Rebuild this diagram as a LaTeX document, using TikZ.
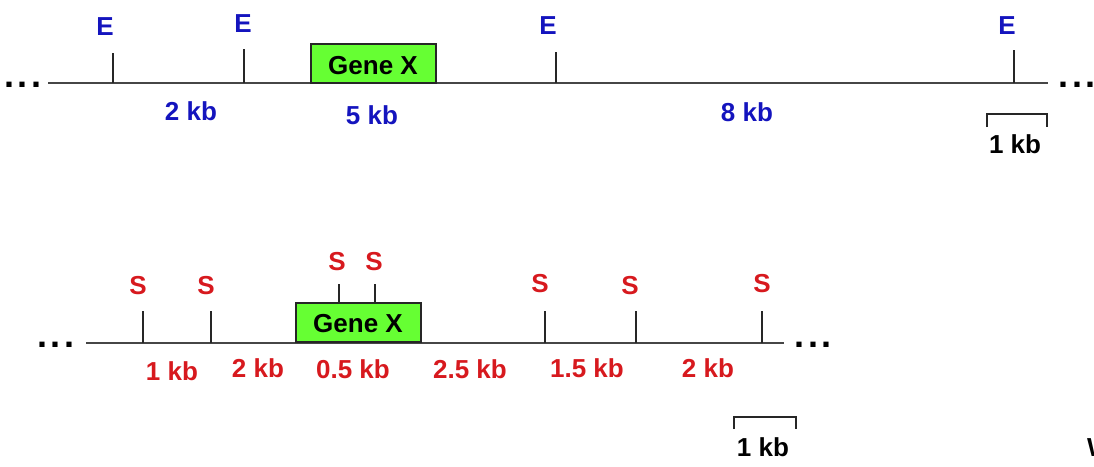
\documentclass[tikz,border=0pt]{standalone}
\usepackage{fontspec}
\setmainfont{Liberation Sans}
\definecolor{eblue}{RGB}{20,20,190}
\definecolor{sred}{RGB}{215,25,30}
\definecolor{genegreen}{RGB}{102,255,51}
\definecolor{linegray}{RGB}{70,70,70}
\begin{document}
\begin{tikzpicture}[x=1pt,y=-1pt,
  lbl/.style={font=\fontsize{26}{30}\selectfont\bfseries, inner sep=0pt, anchor=base},
  elbl/.style={lbl, text=eblue},
  slbl/.style={lbl, text=sred},
  klbl/.style={lbl, text=black},
  dna/.style={draw=linegray, line width=2pt},
  sitetick/.style={draw=black!85, line width=1.3pt},
  genebox/.style={draw=black!85, fill=genegreen, line width=1.3pt},
  scalebar/.style={draw=black!85, line width=1.3pt},
  dotsl/.style={font=\fontsize{36}{40}\selectfont\bfseries, inner sep=0pt, anchor=base, text=black}
]
\useasboundingbox (0,0) rectangle (1094,466);
% ---------------- top map (E sites) ----------------
\coordinate (tl) at (48,83);
\coordinate (tr) at (1048,83);
\draw[dna] (tl) -- (tr);
\node[dotsl] (tdl) at (23,87) {.\kern3.5pt.\kern3.5pt.};
\node[dotsl] (tdr) at (1077,87) {.\kern3.5pt.\kern3.5pt.};
\draw[genebox] (311,83) rectangle (436,44);
\node[klbl] (tgene) at (373,74) {Gene X};
\coordinate (e1) at (113,83);
\coordinate (e2) at (244,83);
\coordinate (e3) at (556,83);
\coordinate (e4) at (1014,83);
\draw[sitetick] (e1) -- ++(0,-30);
\draw[sitetick] (e2) -- ++(0,-34);
\draw[sitetick] (e3) -- ++(0,-31);
\draw[sitetick] (e4) -- ++(0,-33);
\node[elbl] (le1) at (105,35) {E};
\node[elbl] (le2) at (243,32) {E};
\node[elbl] (le3) at (548,34) {E};
\node[elbl] (le4) at (1007,34) {E};
\node[elbl] (d1) at (191,120) {2 kb};
\node[elbl] (d2) at (372,124) {5 kb};
\node[elbl] (d3) at (747,121) {8 kb};
\draw[scalebar] (987,127) -- (987,114) -- (1047,114) -- (1047,127);
\node[klbl] (tsc) at (1015,153) {1 kb};
% ---------------- bottom map (S sites) ----------------
\coordinate (bl) at (86,343);
\coordinate (br) at (784,343);
\draw[dna] (bl) -- (br);
\node[dotsl] (bdl) at (56,347) {.\kern3.5pt.\kern3.5pt.};
\node[dotsl] (bdr) at (813,347) {.\kern3.5pt.\kern3.5pt.};
\draw[genebox] (296,342) rectangle (421,303);
\node[klbl] (bgene) at (358,332) {Gene X};
\coordinate (s1) at (143,343);
\coordinate (s2) at (211,343);
\coordinate (s3) at (339,303);
\coordinate (s4) at (375,303);
\coordinate (s5) at (545,343);
\coordinate (s6) at (636,343);
\coordinate (s7) at (762,343);
\draw[sitetick] (s1) -- ++(0,-32);
\draw[sitetick] (s2) -- ++(0,-32);
\draw[sitetick] (s3) -- ++(0,-19);
\draw[sitetick] (s4) -- ++(0,-19);
\draw[sitetick] (s5) -- ++(0,-32);
\draw[sitetick] (s6) -- ++(0,-32);
\draw[sitetick] (s7) -- ++(0,-32);
\node[slbl] (ls1) at (138,294) {S};
\node[slbl] (ls2) at (206,294) {S};
\node[slbl] (ls3) at (337,270) {S};
\node[slbl] (ls4) at (374,270) {S};
\node[slbl] (ls5) at (540,292) {S};
\node[slbl] (ls6) at (630,294) {S};
\node[slbl] (ls7) at (762,292) {S};
\node[slbl] (b1) at (172,380) {1 kb};
\node[slbl] (b2) at (258,377) {2 kb};
\node[slbl] (b3) at (353,378) {0.5 kb};
\node[slbl] (b4) at (470,378) {2.5 kb};
\node[slbl] (b5) at (587,377) {1.5 kb};
\node[slbl] (b6) at (708,377) {2 kb};
\draw[scalebar] (734,429) -- (734,417) -- (796,417) -- (796,429);
\node[klbl] (bsc) at (763,456) {1 kb};
\node[klbl, anchor=base west] (cutw) at (1087,456) {W};
\end{tikzpicture}
\end{document}
